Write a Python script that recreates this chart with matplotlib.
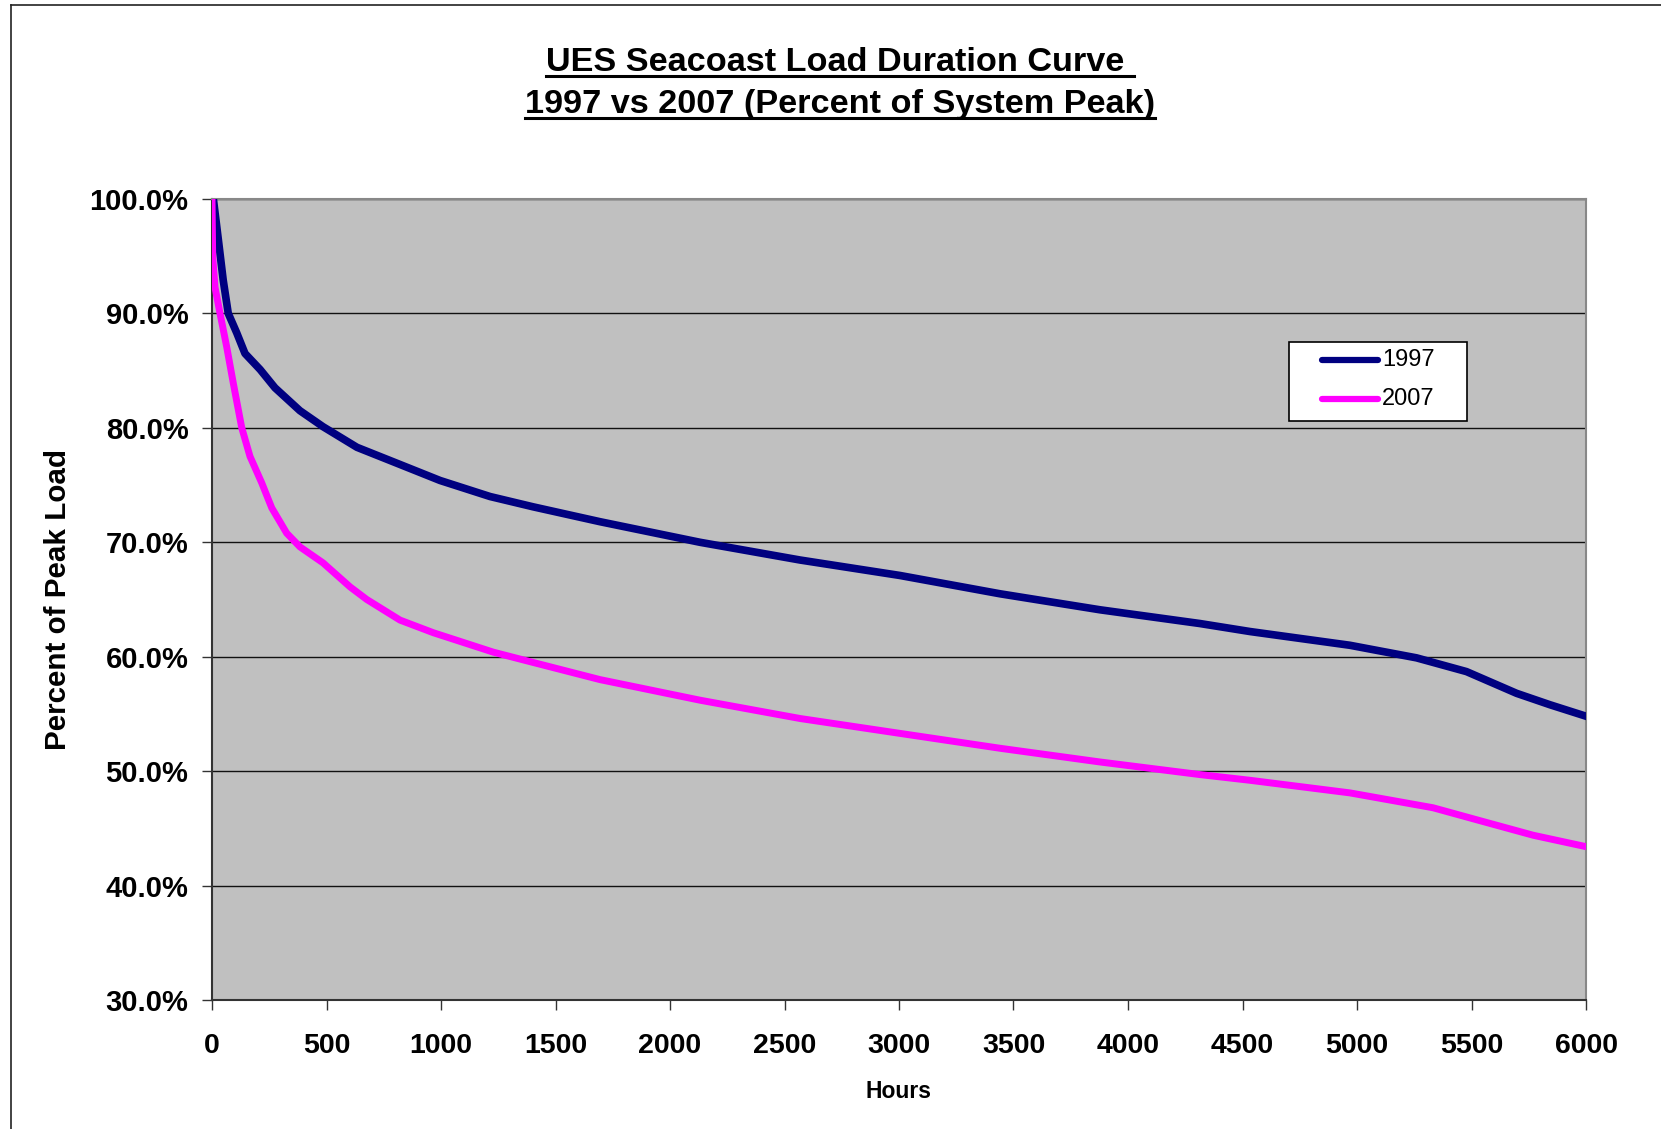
import matplotlib
matplotlib.use("Agg")
import matplotlib.pyplot as plt
from matplotlib.lines import Line2D
from matplotlib.patches import Rectangle
from matplotlib.ticker import FuncFormatter

plt.rcParams['font.family'] = ['Liberation Sans', 'DejaVu Sans']

# values (hours, percent of system peak)
hours_1997 = [0, 6, 28, 49, 71, 108, 144, 210, 275, 384, 485, 633, 821, 996, 1214,
              1402, 1694, 2131, 2568, 3004, 3441, 3878, 4314, 4533, 4969, 5260,
              5478, 5697, 5843, 6000]
load_1997 = [100, 100, 96.4, 92.9, 90.0, 88.3, 86.5, 85.1, 83.5, 81.5, 80.1, 78.3,
             76.8, 75.4, 74.0, 73.1, 71.8, 70.0, 68.45, 67.1, 65.5, 64.1, 62.9,
             62.2, 61.0, 59.9, 58.7, 56.8, 55.8, 54.8]

hours_2007 = [0, 3, 13, 35, 64, 93, 130, 166, 217, 261, 326, 384, 485, 603, 676, 821,
              966, 1228, 1402, 1694, 2131, 2568, 3004, 3441, 3878, 4314, 4533, 4969,
              5332, 5550, 5769, 6000]
load_2007 = [100, 95, 92.3, 90.0, 87.1, 83.9, 80.0, 77.5, 75.2, 73.0, 70.8, 69.6,
             68.2, 66.1, 65.0, 63.2, 62.1, 60.4, 59.5, 58.0, 56.2, 54.6, 53.3, 52.0,
             50.8, 49.7, 49.2, 48.1, 46.8, 45.6, 44.4, 43.4]

series_names = ["1997", "2007"]
series_colors = ["#000080", "#FF00FF"]
x_ticks = list(range(0, 6001, 500))
y_ticks = [30, 40, 50, 60, 70, 80, 90, 100]

W, H = 1661, 1129
fig = plt.figure(figsize=(W / 100, H / 100), dpi=100)
ax = fig.add_axes([212 / W, 1 - 1000 / H, 1374 / W, 801 / H])
ax.set_facecolor("#C0C0C0")

ax.plot(hours_1997, load_1997, color=series_colors[0], lw=5.5, zorder=3)
ax.plot(hours_2007, load_2007, color=series_colors[1], lw=5, zorder=3)

ax.set_xlim(0, 6000)
ax.set_ylim(30, 100)
ax.set_xticks(x_ticks)
ax.set_yticks(y_ticks)
ax.yaxis.set_major_formatter(FuncFormatter(lambda v, p: f"{v:.1f}%"))
ax.grid(axis="y", color="#111111", lw=1)
ax.set_axisbelow(True)
ax.tick_params(direction="out", length=7, width=1, color="#333333")
ax.tick_params(axis="x", pad=17, labelsize=20.5)
ax.tick_params(axis="y", pad=10, labelsize=21)
for lab in ax.get_xticklabels() + ax.get_yticklabels():
    lab.set_fontweight("bold")

ax.spines["left"].set_color("#333333")
ax.spines["bottom"].set_color("#333333")
ax.spines["top"].set_color("#888888")
ax.spines["right"].set_color("#888888")
for s in ax.spines.values():
    s.set_linewidth(1.5)

# legend box drawn by hand to match the padding
ax.add_patch(Rectangle((0.7836, 0.7228), 0.1298, 0.0987, transform=ax.transAxes,
                       facecolor="white", edgecolor="black", lw=1.2, zorder=5))
for i, (name, col) in enumerate(zip(series_names, series_colors)):
    yy = 0.799 - i * 0.0487
    ax.plot([0.8077, 0.8486], [yy, yy], transform=ax.transAxes, color=col, lw=4.5,
            solid_capstyle="round", zorder=6, clip_on=False)
    ax.text(0.8515, yy, name, transform=ax.transAxes, fontsize=17, va="center",
            ha="left", zorder=6)

# labels
fig.text(58 / W, 1 - 600 / H, "Percent of Peak Load", rotation=90, ha="center",
         va="center", fontsize=21.3, fontweight="bold")
fig.text(898 / W, 1 - 1091 / H, "Hours", ha="center", va="center", fontsize=16.5,
         fontweight="bold")

t1 = fig.text(840 / W, 1 - 71 / H, "UES Seacoast Load Duration Curve ", ha="center",
              va="baseline", fontsize=24.7, fontweight="bold")
t2 = fig.text(840 / W, 1 - 113 / H, "1997 vs 2007 (Percent of System Peak)", ha="center",
              va="baseline", fontsize=24.7, fontweight="bold")

fig.canvas.draw()
renderer = fig.canvas.get_renderer()
for t, base in [(t1, 71), (t2, 113)]:
    bb = t.get_window_extent(renderer)
    yline = 1 - (base + 5) / H
    fig.add_artist(Line2D([bb.x0 / W, bb.x1 / W], [yline, yline], transform=fig.transFigure,
                          color="black", lw=2.2))

# outer chart border (partly cropped)
fig.add_artist(Line2D([11 / W, 11 / W], [0, 1 - 5 / H], transform=fig.transFigure,
                      color="#222222", lw=1.2))
fig.add_artist(Line2D([11 / W, 1], [1 - 5 / H, 1 - 5 / H], transform=fig.transFigure,
                      color="#222222", lw=1.2))

fig.savefig("out.png", dpi=100)
